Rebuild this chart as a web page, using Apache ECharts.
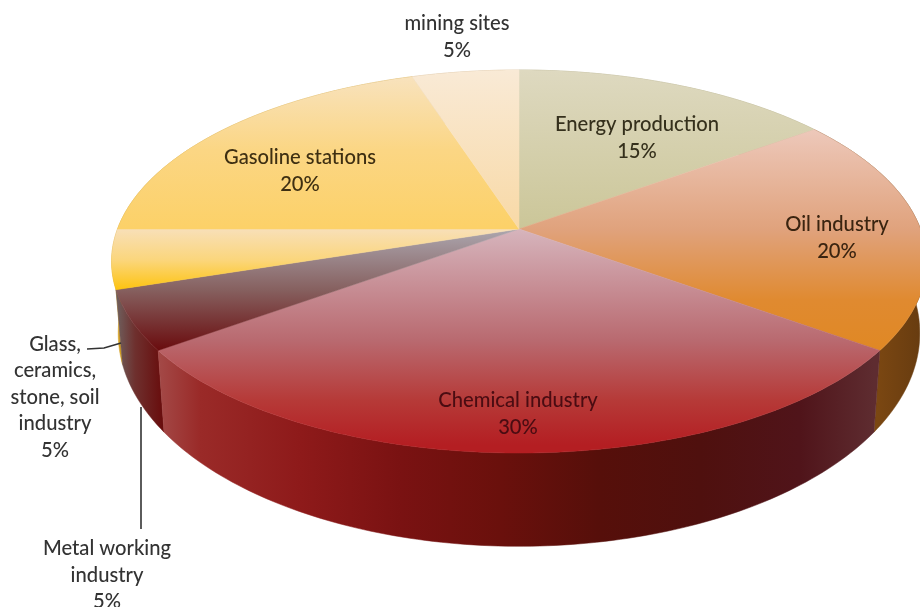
<!DOCTYPE html>
<html>
<head>
<meta charset="utf-8">
<style>html,body{margin:0;padding:0;background:#fff}#chart{width:920px;height:607px}</style>
<script src="https://cdn.jsdelivr.net/npm/echarts@6/dist/echarts.min.js"></script>
</head>
<body>
<div id="chart"></div>
<script>
// Sources of contamination by sector, share in percent (clockwise from 12 o'clock).
const categories = [
  'Energy production',
  'Oil industry',
  'Chemical industry',
  'Metal working\nindustry',
  'Glass,\nceramics,\nstone, soil\nindustry',
  'Gasoline stations',
  'mining sites'
];
const values = [15, 20, 30, 5, 5, 20, 5];

// Label centres, in the same order as the categories.
const labelX = [637, 837, 518, 107, 55, 300, 457];
const labelY = [138, 238, 414, 575, 397, 171, 37];
const labelColors = ['#35301c', '#3a2410', '#4a0c12', '#333', '#333', '#3e2f12', '#333'];

// Leader lines for the labels that sit outside the pie.
const leaderLines = [
  [[141, 407], [141, 529]],
  [[87, 349], [104, 348], [121, 343]]
];

// Top face gradients: [y, colour] stops, vertical.
const topFills = [
  [[70, '#ded9c0'], [230, '#cbc698']],
  [[130, '#edc8ba'], [230, '#e0a27c'], [300, '#e08a30'], [350, '#e08824']],
  [[230, '#d6b4bc'], [340, '#b96a70'], [400, '#b63a38'], [445, '#b41e22']],
  [[232, '#aaa3ab'], [290, '#86605f'], [350, '#6a0c0e']],
  [[230, '#f8dfb6'], [260, '#fbd67c'], [292, '#fdc208']],
  [[78, '#f8e2bc'], [150, '#fbd684'], [228, '#fcd168']],
  [[70, '#f9ead6'], [228, '#f8d9a6']]
];

// Side wall gradients: [x, colour] stops, horizontal.
const sideFills = [
  [[519, '#a8a27c'], [815, '#a8a27c']],
  [[874, '#7c4812'], [920, '#683c10']],
  [[160, '#a34846'], [200, '#9a2a28'], [300, '#8e1a1a'], [400, '#7a1212'],
   [500, '#6a100c'], [600, '#560f0a'], [700, '#4f100e'], [800, '#50141a'], [874, '#5e2c30']],
  [[118, '#6f5c5a'], [135, '#6e302e'], [165, '#680a0a']],
  [[117, '#d8a428'], [125, '#c89418']],
  [[117, '#c89c30'], [412, '#c89c30']],
  [[412, '#c8aa80'], [519, '#c8aa80']]
];

// Perspective projection of the disc onto the page.
const CX = 519, CY = 229, K = 0.1697;
const topFace = { cy: CY, ax: 401.5, by: 186 };
const bottomFace = { cy: 297, ax: 395, by: 207 };

function project(face, deg) {
  const t = deg * Math.PI / 180;
  const u = Math.sin(t), v = -Math.cos(t);
  const d = 1 - K * v;
  return [CX + face.ax * u / d, face.cy + face.by * v / d];
}

function arc(face, a0, a1) {
  const n = Math.max(2, Math.ceil(Math.abs(a1 - a0)));
  const pts = [];
  for (let i = 0; i <= n; i++) pts.push(project(face, a0 + (a1 - a0) * i / n));
  return pts;
}

const total = values.reduce((a, b) => a + b, 0);
const starts = [];
values.reduce((acc, v, i) => { starts[i] = acc; return acc + v; }, 0);
const span = i => [starts[i] / total * 360, (starts[i] + values[i]) / total * 360];

function gradient(stops, horizontal) {
  const lo = stops[0][0], hi = stops[stops.length - 1][0];
  const cs = stops.map(s => ({ offset: hi === lo ? 0 : (s[0] - lo) / (hi - lo), color: s[1] }));
  return horizontal
    ? new echarts.graphic.LinearGradient(lo, 0, hi, 0, cs, true)
    : new echarts.graphic.LinearGradient(0, lo, 0, hi, cs, true);
}

// Back slices first, so the nearer side walls paint over them.
const depthOrder = values.map((_, i) => i).sort((p, q) => {
  const mid = i => { const s = span(i); return -Math.cos((s[0] + s[1]) / 2 * Math.PI / 180); };
  return mid(p) - mid(q);
});

function renderSide(params) {
  const i = depthOrder[params.dataIndex];
  const [a0, a1] = span(i);
  const fill = gradient(sideFills[i], true);
  return {
    type: 'polygon',
    shape: { points: arc(topFace, a0, a1).concat(arc(bottomFace, a1, a0)) },
    style: { fill: fill, stroke: fill, lineWidth: 0.5 }
  };
}

function renderTop(params) {
  const i = params.dataIndex;
  const [a0, a1] = span(i);
  const fill = gradient(topFills[i], false);
  return {
    type: 'polygon',
    shape: { points: [[CX, CY]].concat(arc(topFace, a0, a1)) },
    style: { fill: fill, stroke: fill, lineWidth: 0.5 }
  };
}

function renderLabel(params) {
  const i = params.dataIndex;
  return {
    type: 'text',
    style: {
      x: labelX[i],
      y: labelY[i],
      text: categories[i] + '\n' + values[i] + '%',
      fill: labelColors[i],
      font: '500 20.2px Lato, sans-serif',
      lineHeight: 26.5,
      align: 'center',
      verticalAlign: 'middle'
    }
  };
}

function renderLeader(params) {
  return {
    type: 'polyline',
    shape: { points: leaderLines[params.dataIndex] },
    style: { fill: 'none', stroke: '#333', lineWidth: 1.6 }
  };
}

const toItems = order => order.map(i => ({ name: categories[i], value: values[i] }));
const allSlices = values.map((_, i) => i);

const chart = echarts.init(document.getElementById('chart'), null, { renderer: 'canvas' });
chart.setOption({
  animation: false,
  backgroundColor: '#ffffff',
  series: [
    { type: 'custom', coordinateSystem: 'none', renderItem: renderSide, data: toItems(depthOrder), silent: true, z: 1 },
    { type: 'custom', coordinateSystem: 'none', renderItem: renderTop, data: toItems(allSlices), silent: true, z: 2 },
    { type: 'custom', coordinateSystem: 'none', renderItem: renderLeader, data: leaderLines.map((_, i) => i), silent: true, z: 3 },
    { type: 'custom', coordinateSystem: 'none', renderItem: renderLabel, data: toItems(allSlices), silent: true, z: 4 }
  ]
});
</script>
</body>
</html>
